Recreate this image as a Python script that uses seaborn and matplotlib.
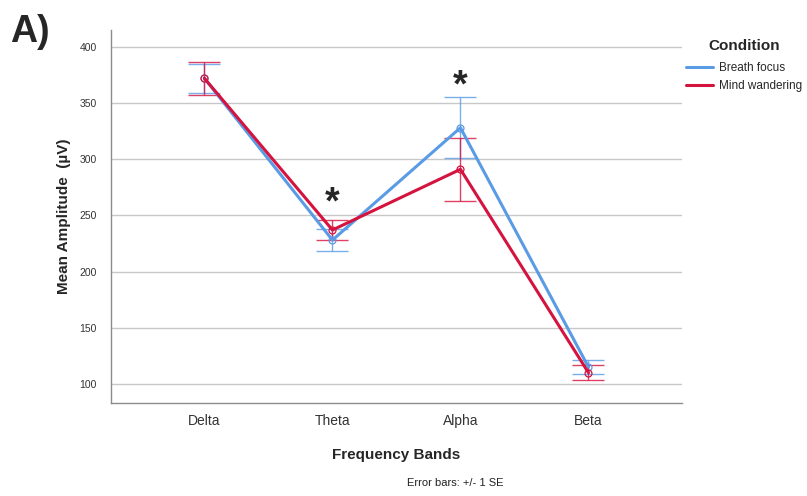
import numpy as np
import pandas as pd
import matplotlib
matplotlib.use("Agg")
import matplotlib.pyplot as plt
from matplotlib import font_manager
import seaborn as sns

# Mean EEG amplitude per frequency band with +/- 1 SE
bands = ["Delta", "Theta", "Alpha", "Beta"]
breath_mean = [372, 228, 328, 115]
breath_se = [13, 10, 27, 6]
mind_mean = [372, 237, 291, 110]
mind_se = [14.5, 9, 28, 6.5]
conditions = ["Breath focus", "Mind wandering"]
colors = {"Breath focus": "#5a9be6", "Mind wandering": "#d5133f"}
y_ticks = [100, 150, 200, 250, 300, 350, 400]

sns.set_style("white")


def first_installed(names):
    available = {f.name for f in font_manager.fontManager.ttflist}
    return [n for n in names if n in available] + ["DejaVu Sans"]


plt.rcParams["font.family"] = first_installed(["Liberation Sans", "Arimo", "Arial", "Roboto"])

df = pd.DataFrame({
    "band": bands * 2,
    "mean": breath_mean + mind_mean,
    "se": breath_se + mind_se,
    "Condition": [conditions[0]] * 4 + [conditions[1]] * 4,
})

fig = plt.figure(figsize=(8.07, 4.96), dpi=100)
ax = fig.add_axes([0.1375, 0.1875, 0.7075, 0.752])

# Error bars first so the lines sit on top
for cond in conditions:
    sub = df[df["Condition"] == cond]
    ax.errorbar(np.arange(len(bands)), sub["mean"], yerr=sub["se"],
                fmt="none", ecolor=colors[cond], elinewidth=1.0,
                capsize=11.5, capthick=1.0, alpha=0.8, zorder=3)

n_before = len(ax.lines)
sns.lineplot(data=df, x="band", y="mean", hue="Condition", palette=colors,
             linewidth=2.2, marker="o", markersize=5,
             markeredgewidth=0.9, ax=ax, zorder=4, legend=True)

# Open circle markers in the line colour
for line in ax.lines[n_before:]:
    c = line.get_color()
    line.set_markerfacecolor("none")
    line.set_markeredgecolor(c)

ax.set_xlim(-0.73, 3.73)
ax.set_ylim(83, 415)
ax.set_yticks(y_ticks)
ax.set_yticklabels([str(t) for t in y_ticks], fontsize=7.5, color="#333333")
ax.tick_params(axis="x", labelsize=10, colors="#333333", length=0, pad=8)
ax.tick_params(axis="y", length=0, pad=10)
ax.yaxis.grid(True, color="#c8c8c8", linewidth=1.0)
ax.xaxis.grid(False)
for side in ["top", "right"]:
    ax.spines[side].set_visible(False)
for side in ["left", "bottom"]:
    ax.spines[side].set_color("#8c8c8c")
    ax.spines[side].set_linewidth(1.0)

ax.set_xlabel("Frequency Bands", fontsize=11, fontweight="bold", labelpad=14)
ax.set_ylabel("Mean Amplitude  (µV)", fontsize=11, fontweight="bold", labelpad=6)

# Significance markers
ax.text(1.0, 245, "*", ha="center", va="bottom", fontsize=27, fontweight="bold")
ax.text(2.0, 349, "*", ha="center", va="bottom", fontsize=27, fontweight="bold")

leg = ax.legend(title="Condition", loc="upper left", bbox_to_anchor=(0.988, 1.005),
                frameon=False, fontsize=8.5,
                title_fontproperties={"weight": "bold", "size": 11},
                handlelength=2.3, handletextpad=0.5, labelspacing=0.45)
leg._legend_box.sep = 7
for line in leg.get_lines():
    line.set_marker("")
    line.set_linewidth(2.2)

fig.text(0.013, 0.972, "A)", fontsize=27, fontweight="bold", va="top", ha="left")
fig.text(0.564, 0.026, "Error bars: +/- 1 SE", fontsize=8, ha="center", va="center", color="#222222")

fig.savefig("out.png", dpi=100)
